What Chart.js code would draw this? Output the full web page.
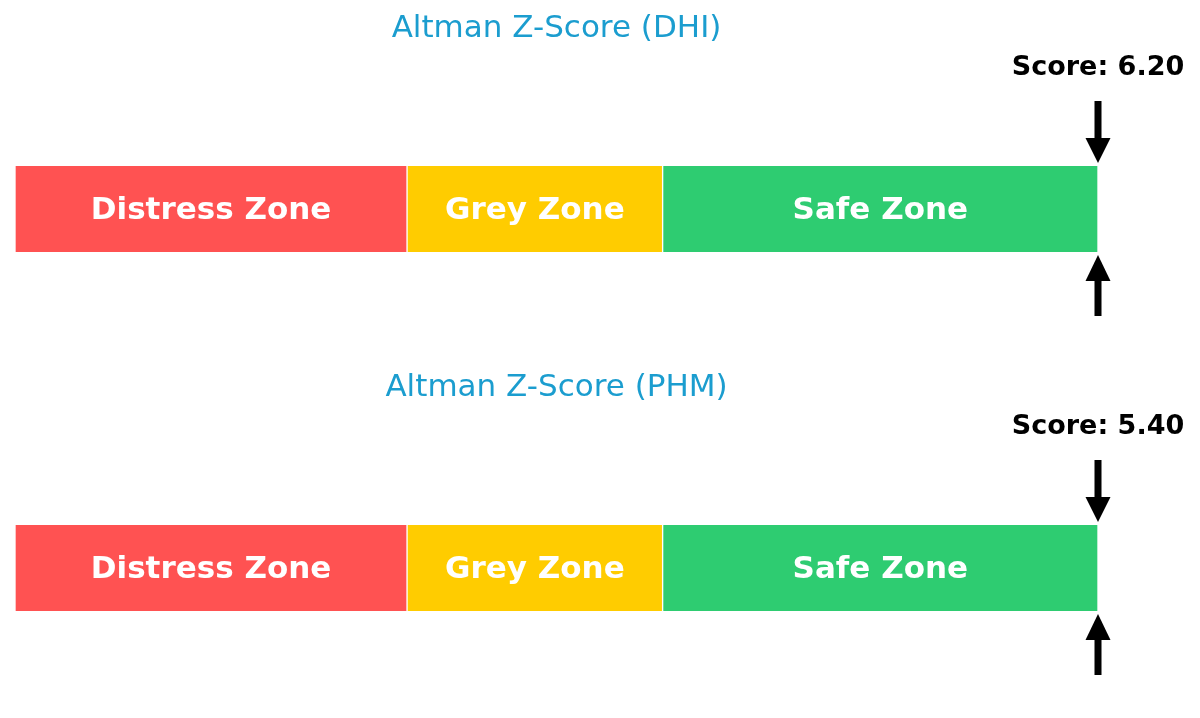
<!DOCTYPE html>
<html lang="en">
<head>
    <meta charset="UTF-8">
    <title>Altman Z-Score</title>
    <script src="https://cdn.jsdelivr.net/npm/chart.js"></script>
    <style>
        body { margin: 0; background: #fff; width: 1200px; height: 718px; overflow: hidden; }
        canvas { display: block; }
    </style>
</head>
<body>
    <canvas id="chart0" width="1200" height="359"></canvas>
    <canvas id="chart1" width="1200" height="359"></canvas>

    <script>
        // data
        const companies = ['DHI', 'PHM'];
        const scores = [6.20, 5.40];
        const zoneNames = ['Distress Zone', 'Grey Zone', 'Safe Zone'];
        const zoneEdges = [0, 1.81, 2.99, 5.0];   // distress < 1.81, safe > 2.99, axis ends at 5
        const zoneColors = ['#ff5252', '#ffcc00', '#2ecc71'];

        const FONT = "'DejaVu Sans', sans-serif";

        // titles, zone labels and the score arrows
        const gaugeDecor = {
            id: 'gaugeDecor',
            afterDatasetsDraw(chart, args, opts) {
                const c = chart.ctx;
                const area = chart.chartArea;
                const xs = chart.scales.x;
                c.save();

                // zone names in the middle of each bar piece
                c.fillStyle = '#fff';
                c.font = 'bold 31px ' + FONT;
                c.textAlign = 'center';
                c.textBaseline = 'alphabetic';
                chart.data.datasets.forEach((ds, i) => {
                    const bar = chart.getDatasetMeta(i).data[0];
                    const p = bar.getCenterPoint();
                    c.fillText(ds.label, p.x, p.y + 10);
                });

                // title over the plot area
                c.fillStyle = '#1b9dcf';
                c.font = '31px ' + FONT;
                c.fillText('Altman Z-Score (' + opts.company + ')', (area.left + area.right) / 2, 37);

                // arrows, pinned to the end of the axis when the score is off the scale
                const ax = xs.getPixelForValue(Math.min(opts.score, xs.max));
                c.fillStyle = '#000';
                c.fillRect(ax - 3.5, area.top - 65, 7, 40);
                c.beginPath();
                c.moveTo(ax - 12.5, area.top - 28);
                c.lineTo(ax + 12.5, area.top - 28);
                c.lineTo(ax, area.top - 3);
                c.closePath();
                c.fill();

                c.fillRect(ax - 3.5, area.bottom + 26, 7, 38);
                c.beginPath();
                c.moveTo(ax - 12.5, area.bottom + 29);
                c.lineTo(ax + 12.5, area.bottom + 29);
                c.lineTo(ax, area.bottom + 3);
                c.closePath();
                c.fill();

                c.font = 'bold 27px ' + FONT;
                c.fillText('Score: ' + opts.score.toFixed(2), ax, 75);
                c.restore();
            }
        };

        companies.forEach((company, k) => {
            const datasets = zoneNames.map((name, i) => ({
                label: name,
                data: [zoneEdges[i + 1] - zoneEdges[i]],
                backgroundColor: zoneColors[i],
                borderColor: '#fff',
                borderWidth: { left: 1, right: 1, top: 0, bottom: 0 },
                borderSkipped: false,
                barPercentage: 1,
                categoryPercentage: 1
            }));

            new Chart(document.getElementById('chart' + k), {
                type: 'bar',
                data: { labels: [company], datasets: datasets },
                options: {
                    indexAxis: 'y',
                    responsive: false,
                    animation: false,
                    layout: { padding: { left: 15, right: 102, top: 166, bottom: 107 } },
                    scales: {
                        x: { stacked: true, min: zoneEdges[0], max: zoneEdges[zoneEdges.length - 1], display: false },
                        y: { stacked: true, display: false }
                    },
                    plugins: {
                        legend: { display: false },
                        tooltip: { enabled: false },
                        gaugeDecor: { company: company, score: scores[k] }
                    }
                },
                plugins: [gaugeDecor]
            });
        });
    </script>
</body>
</html>
